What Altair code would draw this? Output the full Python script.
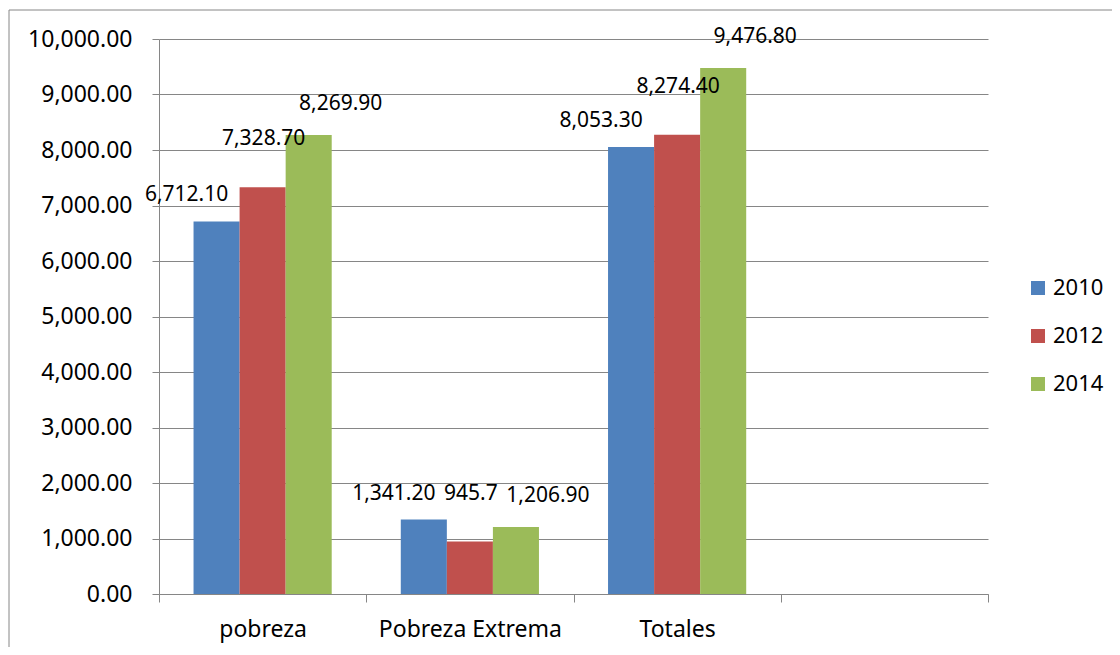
import altair as alt
import pandas as pd

categories = ["pobreza", "Pobreza Extrema", "Totales"]
years = ["2010", "2012", "2014"]
v2010 = [6712.1, 1341.2, 8053.3]
v2012 = [7328.7, 945.7, 8274.4]
v2014 = [8269.9, 1206.9, 9476.8]
labels2010 = ["6,712.10", "1,341.20", "8,053.30"]
labels2012 = ["7,328.70", "945.7", "8,274.40"]
labels2014 = ["8,269.90", "1,206.90", "9,476.80"]
y_ticks = [0, 1000, 2000, 3000, 4000, 5000, 6000, 7000, 8000, 9000, 10000]
colors = ["#4F81BD", "#C0504D", "#9BBB59"]

rows = []
for yr, vals, labs in zip(years, [v2010, v2012, v2014], [labels2010, labels2012, labels2014]):
    for c, v, l in zip(categories, vals, labs):
        rows.append({"cat": c, "year": yr, "value": v, "label": l})
df = pd.DataFrame(rows)

GRID = "#868686"
FONT = "Noto Sans"
cat_domain = categories + [" "]

x_enc = alt.X(
    "cat:N",
    sort=cat_domain,
    scale=alt.Scale(domain=cat_domain, paddingInner=0, paddingOuter=0),
    axis=alt.Axis(
        title=None, tickBand="extent", labelFontSize=23, labelFont=FONT,
        labelColor="black", labelPadding=16, tickSize=8, tickColor=GRID,
        domainColor=GRID, labelAngle=0, grid=False, labelLimit=400,
    ),
)
xoff_enc = alt.XOffset("year:N", scale=alt.Scale(domain=years, paddingInner=0, paddingOuter=0.75))
y_enc = alt.Y(
    "value:Q",
    scale=alt.Scale(domain=[0, 10000], nice=False),
    axis=alt.Axis(
        title=None, values=y_ticks, format=",.2f", labelFontSize=23, labelFont=FONT,
        labelColor="black", labelPadding=20, tickSize=7, tickColor=GRID,
        domainColor=GRID, gridColor=GRID, gridWidth=1, grid=True,
    ),
)

base = alt.Chart(df)

bars = base.mark_bar().encode(
    x=x_enc,
    xOffset=xoff_enc,
    y=y_enc,
    color=alt.Color(
        "year:N",
        scale=alt.Scale(domain=years, range=colors),
        legend=alt.Legend(
            title=None, orient="none", legendX=868, legendY=238,
            symbolType="square", symbolSize=196, symbolStrokeWidth=0,
            labelFontSize=22, labelFont=FONT, labelColor="black",
            rowPadding=26, labelOffset=4,
        ),
    ),
)

offsets = {"2010": (-30, -26), "2012": (1, -48), "2014": (32, -31)}
texts = []
for yr in years:
    dx, dy = offsets[yr]
    texts.append(
        base.transform_filter(alt.datum.year == yr)
        .mark_text(dx=dx, dy=dy, fontSize=21, font=FONT, color="black")
        .encode(x=x_enc, xOffset=xoff_enc, y=y_enc, text="label:N")
    )

border = alt.Chart(alt.Data(values=[{}])).mark_rect(
    fill=None, stroke=GRID, strokeWidth=1
).encode(
    x=alt.value(-150), x2=alt.value(1000), y=alt.value(-29), y2=alt.value(700)
)

chart = alt.layer(border, bars, *texts).properties(
    width=829,
    height=555,
    padding={"left": 151, "top": 31, "right": 124, "bottom": 53},
    autosize=alt.AutoSizeParams(type="none"),
    background="white",
).configure_view(stroke=None)

chart.save("out.html", embed_options={"renderer": "svg", "actions": False})
